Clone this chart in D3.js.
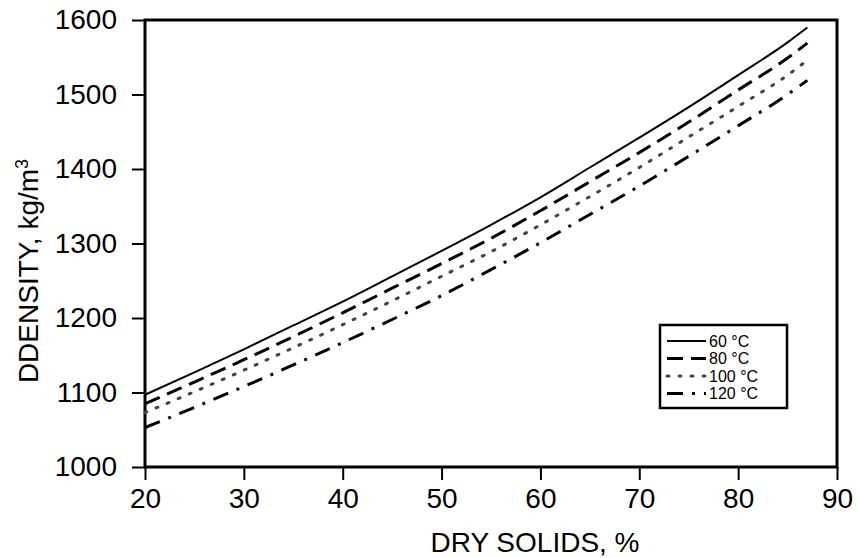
<!DOCTYPE html>
<html>
<head>
<meta charset="utf-8">
<script src="https://cdn.jsdelivr.net/npm/d3@7"></script>
<style>
  body { margin: 0; background: #fff; }
  text { font-family: "Liberation Sans", Arial, sans-serif; fill: #000; }
</style>
</head>
<body>
<div id="chart"></div>
<script>
// dry solids, %
var drySolids = [20, 25, 30, 35, 40, 45, 50, 55, 60, 65, 70, 75, 80, 85, 87];
// density kg/m3 for each temperature
var dens60  = [1097, 1127, 1158, 1190, 1222, 1256, 1290, 1325, 1362, 1402, 1442, 1483, 1526, 1570, 1590];
var dens80  = [1085, 1114, 1144, 1175, 1207, 1240, 1273, 1307, 1344, 1383, 1422, 1463, 1506, 1549, 1569];
var dens100 = [1073, 1101, 1130, 1160, 1191, 1223, 1256, 1289, 1325, 1363, 1402, 1443, 1484, 1526, 1546];
var dens120 = [1053, 1080, 1108, 1137, 1167, 1198, 1230, 1265, 1301, 1339, 1377, 1417, 1458, 1500, 1519];
var seriesNames = ["60 °C", "80 °C", "100 °C", "120 °C"];
var xTicks = [20, 30, 40, 50, 60, 70, 80, 90];
var yTicks = [1000, 1100, 1200, 1300, 1400, 1500, 1600];

var W = 860, H = 558;
var margin = {top: 20, right: 23, bottom: 91, left: 145};
var w = W - margin.left - margin.right;
var h = H - margin.top - margin.bottom;

var svg = d3.select("#chart").append("svg")
  .attr("width", W)
  .attr("height", H);

var g = svg.append("g")
  .attr("transform", "translate(" + margin.left + "," + margin.top + ")");

var x = d3.scaleLinear().domain([20, 90]).range([0, w]);
var y = d3.scaleLinear().domain([1000, 1600]).range([h, 0]);

// axes
var xAxis = g.append("g")
  .attr("transform", "translate(0," + h + ")")
  .call(d3.axisBottom(x).tickValues(xTicks).tickFormat(d3.format("d"))
    .tickSize(13).tickSizeOuter(0).tickPadding(8));
var yAxis = g.append("g")
  .call(d3.axisLeft(y).tickValues(yTicks).tickFormat(d3.format("d"))
    .tickSize(13).tickSizeOuter(0).tickPadding(15));

[xAxis, yAxis].forEach(function(a){
  a.select(".domain").remove();
  a.selectAll(".tick line").attr("stroke", "#000").attr("stroke-width", 2);
  a.selectAll(".tick text")
    .style("font-family", "'Liberation Sans', Arial, sans-serif")
    .style("font-size", "28px")
    .attr("fill", "#000");
});

// frame
g.append("rect")
  .attr("x", 0).attr("y", 0)
  .attr("width", w).attr("height", h)
  .attr("fill", "none")
  .attr("stroke", "#000")
  .attr("stroke-width", 3);

// series
var styles = [
  {dash: null, width: 2},
  {dash: "16,8", width: 3},
  {dash: "2,10", width: 3, cap: "round", color: "#444"},
  {dash: "16,9,3,9", width: 3}
];
var allSeries = [dens60, dens80, dens100, dens120];

var line = d3.line()
  .x(function(d, i){ return x(drySolids[i]); })
  .y(function(d){ return y(d); })
  .curve(d3.curveMonotoneX);

g.selectAll(".series")
  .data(allSeries)
  .enter()
  .append("path")
  .attr("class", "series")
  .attr("d", line)
  .attr("fill", "none")
  .attr("stroke", function(d, i){ return styles[i].color || "#000"; })
  .attr("stroke-width", function(d, i){ return styles[i].width; })
  .attr("stroke-dasharray", function(d, i){ return styles[i].dash; })
  .attr("stroke-linecap", function(d, i){ return styles[i].cap || "butt"; });

// legend
var legend = svg.append("g").attr("transform", "translate(660,325)");
legend.append("rect")
  .attr("width", 127).attr("height", 83)
  .attr("fill", "#fff")
  .attr("stroke", "#000")
  .attr("stroke-width", 2.5);

var rows = legend.selectAll(".row")
  .data(seriesNames)
  .enter()
  .append("g")
  .attr("transform", function(d, i){ return "translate(0," + (16 + i * 17.5) + ")"; });

rows.append("line")
  .attr("x1", 7).attr("x2", 46)
  .attr("stroke", function(d, i){ return styles[i].color || "#000"; })
  .attr("stroke-width", function(d, i){ return styles[i].width; })
  .attr("stroke-dasharray", function(d, i){ return styles[i].dash; })
  .attr("stroke-linecap", function(d, i){ return styles[i].cap || "butt"; });

rows.append("text")
  .attr("x", 49)
  .attr("dy", "0.36em")
  .style("font-size", "16px")
  .text(function(d){ return d; });

// axis titles
svg.append("text")
  .attr("x", 535)
  .attr("y", 552)
  .attr("text-anchor", "middle")
  .style("font-size", "28px")
  .text("DRY SOLIDS, %");

var yt = svg.append("text")
  .attr("transform", "translate(38,271) rotate(-90)")
  .attr("text-anchor", "middle")
  .style("font-size", "28px")
  .text("DDENSITY, kg/m");
yt.append("tspan")
  .attr("dy", "-10")
  .style("font-size", "18px")
  .text("3");
</script>
</body>
</html>
